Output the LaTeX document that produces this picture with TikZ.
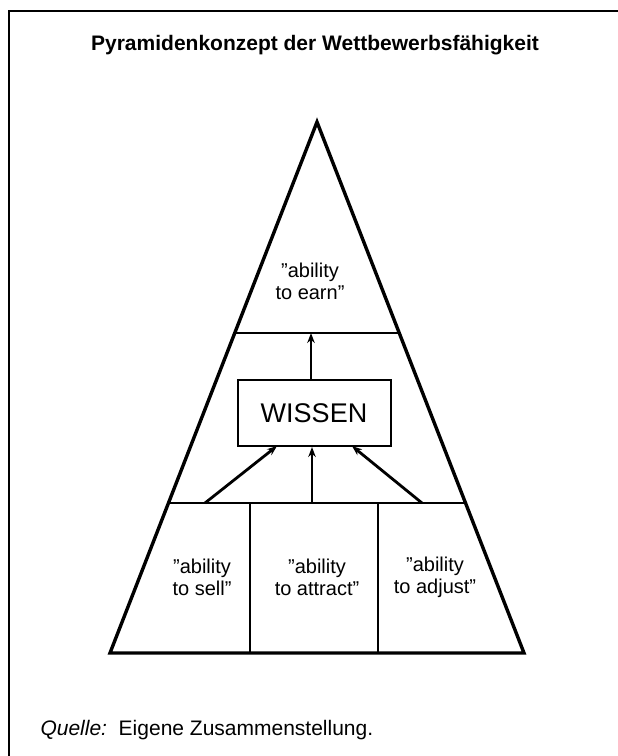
\documentclass[tikz,border=0pt]{standalone}
\usepackage{fontspec}
\setmainfont[Ligatures=TeX]{Liberation Sans}
\usetikzlibrary{calc,positioning,arrows.meta}
\tikzset{
  stufe/.style={font=\fontsize{20}{22}\selectfont, align=center}, % text in the pyramid
  pfeil/.style={-{Stealth[length=10pt,width=7.5pt]}, line width=2.8pt},
  trenn/.style={line width=2pt},
}

\begin{document}
\begin{tikzpicture}[x=1pt,y=-1pt]
  \useasboundingbox (0,0) rectangle (618,756);
  % frame, open to the right and below
  \draw[line width=1.8pt] (618,11) -- (9,11) -- (9,756);
  \node[font=\bfseries\fontsize{21}{24}\selectfont, anchor=base] (titel) at (315,50)
    {Pyramidenkonzept der Wettbewerbsfähigkeit};

  % pyramid
  \coordinate (spitze) at (317,122);
  \coordinate (bl) at (110,653);
  \coordinate (br) at (524,653);
  \coordinate (ol) at ($(spitze)!0.397!(bl)$);
  \coordinate (or) at ($(spitze)!0.397!(br)$);
  \coordinate (ul) at ($(spitze)!0.7175!(bl)$);
  \coordinate (ur) at ($(spitze)!0.7175!(br)$);
  \coordinate (t1) at (250,503);
  \coordinate (t2) at (378,503);
  \coordinate (b1) at (250,653);
  \coordinate (b2) at (378,653);
  \draw[line width=3.4pt, line join=miter] (spitze) -- (bl) -- (br) -- cycle;
  \draw[trenn] (ol) -- (or);
  \draw[trenn] (ul) -- (ur);
  \draw[trenn] (t1) -- (b1);
  \draw[trenn] (t2) -- (b2);

  \node[stufe] (earn) at (310,281) {''ability\\to earn''};
  \node[stufe] (sell) at (202,577) {''ability\\to sell''};
  \node[stufe] (attract) at (317,577) {''ability\\to attract''};
  \node[stufe] (adjust) at (435,577) {''ability\\to adjust''};

  \node[draw, line width=2pt, minimum width=153pt, minimum height=66pt,
        font=\fontsize{27}{30}\selectfont] (wissen) at (314,413) {WISSEN};

  % arrows
  \coordinate (s1) at (205,503);
  \coordinate (s2) at (312,503);
  \coordinate (s3) at (422,503);
  \coordinate (z1) at (277,446);
  \coordinate (z3) at (352,446);
  \coordinate (oben) at (311,333);
  \draw[pfeil] (s1) -- (z1);
  \draw[pfeil] (s2) -- (wissen.south -| s2);
  \draw[pfeil] (s3) -- (z3);
  \draw[pfeil] (wissen.north -| oben) -- (oben);

  \node[font=\fontsize{21}{24}\selectfont, anchor=base west] (quelle) at (37,735)
    {\textit{Quelle:}\ \ Eigene Zusammenstellung.};
\end{tikzpicture}
\end{document}
